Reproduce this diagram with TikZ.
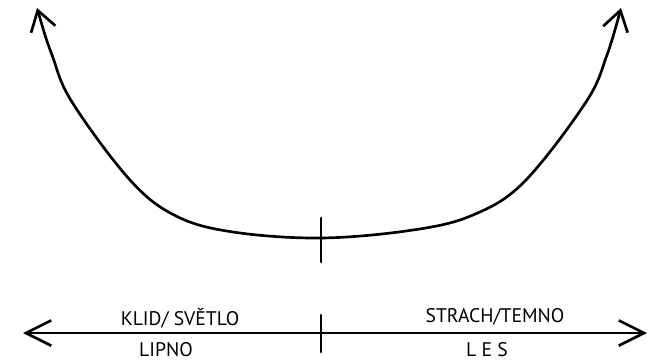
\documentclass[tikz,border=0pt]{standalone}
\usepackage{fontspec}
\setmainfont{PT Sans}
\usetikzlibrary{positioning, arrows.meta}

\begin{document}
\begin{tikzpicture}[x=0.025cm, y=-0.025cm, line width=1.9pt, line cap=round,
    lab/.style={font=\fontsize{14}{16}\selectfont, inner sep=0pt}]
  \useasboundingbox (0,0) rectangle (658,363);
  % u-shaped curve
  \coordinate (cl) at (37,8);
  \coordinate (cr) at (621,8);
  \coordinate (cmid) at (321,238);
  \draw[{Straight Barb[length=14pt, width=18pt]}-{Straight Barb[length=14pt, width=18pt]}]
    plot[smooth, tension=0.6] coordinates {(cl) (52,55) (72,102) (130,180) (176,216) (233,232)
      (cmid) (413,230) (473,215) (524,182) (586,102) (607,55) (cr)};
  \draw (321,218) -- (321,262);
  % axis
  \coordinate (al) at (23,333);
  \coordinate (ar) at (647,333);
  \draw[{Straight Barb[length=18pt, width=18pt]}-{Straight Barb[length=18pt, width=18pt]}] (al) -- (ar);
  \draw (321,315) -- (321,352);
  \node[lab] (klid) at (180,318) {KLID/ SVĚTLO};
  \node[lab] (lipno) at (166,350) {LIPNO};
  \node[lab] (strach) at (495,317) {STRACH/TEMNO};
  \node[lab] (les) at (487,350) {L E S};
\end{tikzpicture}
\end{document}
